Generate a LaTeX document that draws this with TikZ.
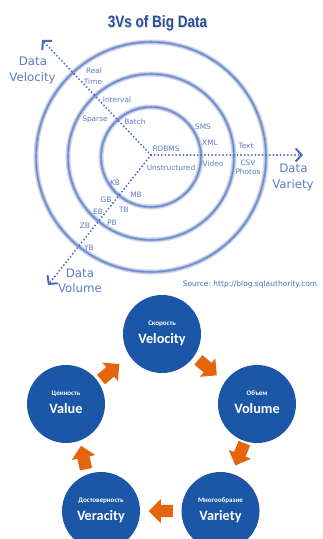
\documentclass[tikz,border=0pt]{standalone}
\usepackage{fontspec}
\usepackage{graphicx}
\setmainfont{DejaVu Sans}
\newfontfamily\carl{Carlito}
\newfontfamily\arialf{Liberation Sans}
\usetikzlibrary{arrows.meta,calc}
\definecolor{ringA}{HTML}{CCD7EF}
\definecolor{ringB}{HTML}{9CB0DC}
\definecolor{ringC}{HTML}{6C87C7}
\definecolor{axisc}{HTML}{4A6BBF}
\definecolor{lab}{HTML}{5C7DC3}
\definecolor{titlec}{HTML}{2B4B9B}
\definecolor{vblue}{HTML}{1C57A7}
\definecolor{vorange}{HTML}{E5650F}
\begin{document}
\begin{tikzpicture}[x=1pt,y=-1pt,
  axisline/.style={axisc, line width=2.1pt, line cap=round, dash pattern=on 0pt off 3.6pt,
    -{Straight Barb[length=6pt,width=13pt,line width=2pt]}},
  small/.style={text=lab, font=\fontsize{7.4}{8}\selectfont, inner sep=0, anchor=base},
  big/.style={text=lab, font=\fontsize{11.8}{13}\selectfont, inner sep=0, anchor=base},
  vc/.style={circle, fill=vblue, minimum size=78pt, inner sep=0},
  ru/.style={text=white, font=\carl\bfseries\fontsize{7}{8}\selectfont, inner sep=0, anchor=base},
  en/.style={text=white, font=\carl\bfseries\fontsize{14.3}{16}\selectfont, inner sep=0, anchor=base},
  barrow/.pic={\fill[vorange] (-12,-6.2) -- (0,-6.2) -- (0,-12) -- (12,0) -- (0,12) -- (0,6.2) -- (-12,6.2) -- cycle;}
]
\useasboundingbox (0,0) rectangle (323,539);
\fill[white] (0,0) rectangle (323,539);

% title
\node[anchor=base, text=black!12, inner sep=0] (titleshadow) at (158.5,28) {\scalebox{0.82}[1]{\arialf\bfseries\fontsize{16.5}{18}\selectfont 3Vs of Big Data}};
\node[anchor=base, text=titlec, inner sep=0] (title) at (157.5,27) {\scalebox{0.82}[1]{\arialf\bfseries\fontsize{16.5}{18}\selectfont 3Vs of Big Data}};

% rings
\coordinate (O) at (151,157);
\foreach \r in {50,83,115} {
  \draw[ringA, line width=5pt] (O) circle[radius=\r pt];
  \draw[ringB, line width=2.6pt] (O) circle[radius=\r pt];
  \draw[ringC, line width=1.1pt] (O) circle[radius=\r pt];
}

% axes
\coordinate (C) at (151,155);
\coordinate (velTip) at (42,40);
\coordinate (varTip) at (303,155);
\coordinate (volTip) at (48,285);
\draw[axisline] (C) -- (velTip);
\draw[axisline] (C) -- (varTip);
\draw[axisline] (C) -- (volTip);

% axis names
\node[big] (dvel1) at (33,65) {Data};
\node[big] (dvel2) at (32.5,81) {Velocity};
\node[big] (dvar1) at (293.5,172) {Data};
\node[big] (dvar2) at (293,188) {Variety};
\node[big] (dvol1) at (80,277) {Data};
\node[big] (dvol2) at (80,292) {Volume};

% small labels
\node[small] (l1) at (94,73.7) {Real};
\node[small] (l2) at (93,84.7) {Time};
\node[small] (l3) at (117,102.7) {Interval};
\node[small] (l4) at (95,121.7) {Sparse};
\node[small] (l5) at (135,124.7) {Batch};
\node[small] (l6) at (166,151.7) {RDBMS};
\node[small] (l7) at (171,170.7) {Unstructured};
\node[small] (l8) at (203,129.7) {SMS};
\node[small] (l9) at (210,145.7) {XML};
\node[small] (l10) at (213,166.7) {Video};
\node[small] (l11) at (246,148.7) {Text};
\node[small] (l12) at (248,165.7) {CSV};
\node[small] (l13) at (248,174.7) {Photos};
\node[small] (l14) at (115,185.7) {KB};
\node[small] (l15) at (136,197.7) {MB};
\node[small] (l16) at (106,202.7) {GB};
\node[small] (l17) at (124,212.7) {TB};
\node[small] (l18) at (98,214.7) {EB};
\node[small] (l19) at (112,225.7) {PB};
\node[small] (l20) at (85,228.7) {ZB};
\node[small] (l21) at (89,250.7) {YB};

\node[text=axisc, font=\fontsize{7.5}{9}\selectfont, inner sep=0, anchor=base] (src) at (250,286.7) {Source:\ http://blog.sqlauthority.com};

% 5 Vs
\node[vc] (velocity) at (162,334) {};
\node[vc] (value) at (66,404) {};
\node[vc] (volume) at (257,404) {};
\node[vc] (veracity) at (101,511) {};
\node[vc] (variety) at (220.5,511) {};

\node[ru] (velocity-ru) at ($(velocity)+(0,-8.7)$) {Скорость};
\node[en] (velocity-en) at ($(velocity)+(0,9.6)$) {Velocity};
\node[ru] (value-ru) at ($(value)+(0,-8.7)$) {Ценность};
\node[en] (value-en) at ($(value)+(0,9.6)$) {Value};
\node[ru] (volume-ru) at ($(volume)+(0,-8.7)$) {Объем};
\node[en] (volume-en) at ($(volume)+(0,9.6)$) {Volume};
\node[ru] (veracity-ru) at ($(veracity)+(0,-8.7)$) {Достоверность};
\node[en] (veracity-en) at ($(veracity)+(0,9.6)$) {Veracity};
\node[ru] (variety-ru) at ($(variety)+(0,-8.7)$) {Многообразие};
\node[en] (variety-en) at ($(variety)+(0,9.6)$) {Variety};

% orange arrows
\pic[rotate=40] at ($(value)!0.46!(velocity)$) {barrow};
\pic[rotate=-40] at ($(velocity)!0.48!(volume)$) {barrow};
\pic[rotate=-112] at ($(volume)!0.47!(variety)$) {barrow};
\pic[rotate=180] at ($(variety)!0.5!(veracity)$) {barrow};
\pic[rotate=102] at ($(veracity)!0.5!(value)$) {barrow};
\end{tikzpicture}
\end{document}
